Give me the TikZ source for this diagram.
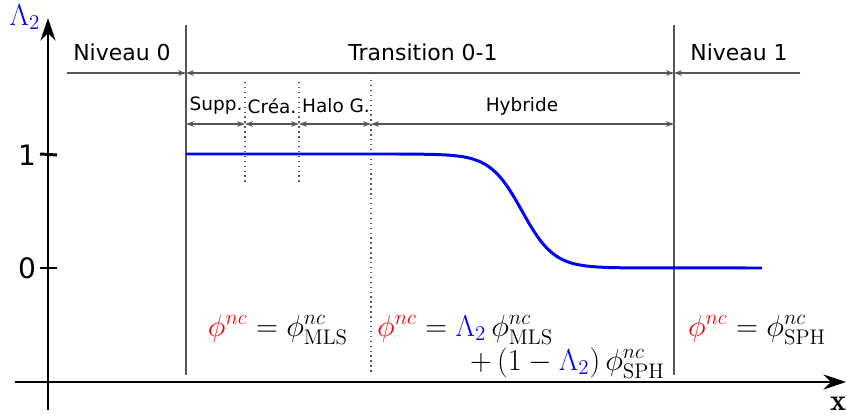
\documentclass[tikz,border=0pt]{standalone}
\usepackage{amsmath}
\usepackage{fontspec}
\newfontfamily\etiq{DejaVu Sans}
\usetikzlibrary{arrows.meta}
\definecolor{gristrait}{RGB}{85,85,85}

\tikzset{
  axe/.style={line width=1.7pt, -{Stealth[length=4.5mm,width=3mm]}},
  borne/.style={gristrait, line width=0.8pt},
  sousborne/.style={gristrait, line width=0.8pt, dash pattern=on 0.8pt off 2pt},
  cote/.style={gristrait, line width=0.6pt, {Stealth[length=1.6mm,width=1.1mm]}-{Stealth[length=1.6mm,width=1.1mm]}},
  cotefin/.style={gristrait, line width=0.6pt, -{Stealth[length=1.6mm,width=1.1mm]}},
  titre/.style={font=\etiq\fontsize{12.5}{14}\selectfont},
  soustitre/.style={font=\etiq\fontsize{10.5}{12}\selectfont},
  grad/.style={font=\etiq\fontsize{16}{18}\selectfont},
  formule/.style={font=\LARGE, inner sep=0.5pt},
  courbe/.style={blue, line width=1.7pt},
}

\begin{document}
\begin{tikzpicture}[x=0.02cm, y=-0.02cm]
        \useasboundingbox (0,0) rectangle (847,415);

        % Axes
        \coordinate (ybas) at (48,410);
        \coordinate (yhaut) at (48,18);
        \coordinate (xg) at (15,382);
        \coordinate (xd) at (846,382);
        \draw[axe] (ybas) -- (yhaut);
        \draw[axe] (xg) -- (xd);
        \node[blue, font=\LARGE] (lam) at (25,17) {$\Lambda_2$};
        \node[font=\LARGE] (xlab) at (838,404) {$\mathbf{x}$};

        % Graduations
        \node[grad] (un) at (27,155) {1};
        \node[grad] (zero) at (27,268) {0};
        \draw[line width=1.7pt] (40,154) -- (un.east -| 57,154);
        \draw[line width=1.7pt] (40,268) -- (zero.east -| 57,268);

        % Frontieres
        \coordinate (t0h) at (186,25);
        \coordinate (t0b) at (186,375);
        \coordinate (t1h) at (674,25);
        \coordinate (t1b) at (674,375);
        \draw[borne] (t0h) -- (t0b);
        \draw[borne] (t1h) -- (t1b);
        \draw[sousborne] (245,82) -- (245,183);
        \draw[sousborne] (299,82) -- (299,183);
        \draw[sousborne] (371,80) -- (371,375);

        % Niveaux
        \coordinate (g0) at (67,73);
        \coordinate (t0) at (186,73);
        \coordinate (t1) at (674,73);
        \coordinate (d1) at (800,73);
        \draw[cotefin] (g0) -- (t0);
        \draw[cote] (t0) -- (t1);
        \draw[cotefin] (d1) -- (t1);
        \node[titre] (niv0) at (122,52) {Niveau 0};
        \node[titre] (trans) at (423,52) {Transition 0-1};
        \node[titre] (niv1) at (739,52) {Niveau 1};

        % Sous-etapes
        \coordinate (s0) at (186,124);
        \coordinate (s1) at (245,124);
        \coordinate (s2) at (299,124);
        \coordinate (s3) at (371,124);
        \coordinate (s4) at (674,124);
        \draw[cote] (s0) -- (s1);
        \draw[cote] (s1) -- (s2);
        \draw[cote] (s2) -- (s3);
        \draw[cote] (s3) -- (s4);
        \node[soustitre] (supp) at (216,106) {Supp.};
        \node[soustitre] (crea) at (272,106) {Créa.};
        \node[soustitre] (halo) at (336,106) {Halo G.};
        \node[soustitre] (hyb) at (522,106) {Hybride};

        % Lambda_2
        \draw[courbe] (186,154) -- (400,154)
          -- plot[domain=400:640, samples=90] (\x, {154+114/(1+exp(-(\x-522)/16))})
          -- (762,268);

        % Formules
        \node[formule, anchor=base] (fmls) at (278,336) {$\color{red}\phi^{nc}\color{black} = \phi^{nc}_{\mathrm{MLS}}$};
        \node[formule, anchor=base west] (fhyb) at (376,336) {$\color{red}\phi^{nc}\color{black} = \color{blue}\Lambda_2\color{black}\,\phi^{nc}_{\mathrm{MLS}}$};
        \node[formule, anchor=base east] (fhyb2) at (666,370) {$+\,(1-\color{blue}\Lambda_2\color{black})\,\phi^{nc}_{\mathrm{SPH}}$};
        \node[formule, anchor=base] (fsph) at (757,336) {$\color{red}\phi^{nc}\color{black} = \phi^{nc}_{\mathrm{SPH}}$};
\end{tikzpicture}
\end{document}
